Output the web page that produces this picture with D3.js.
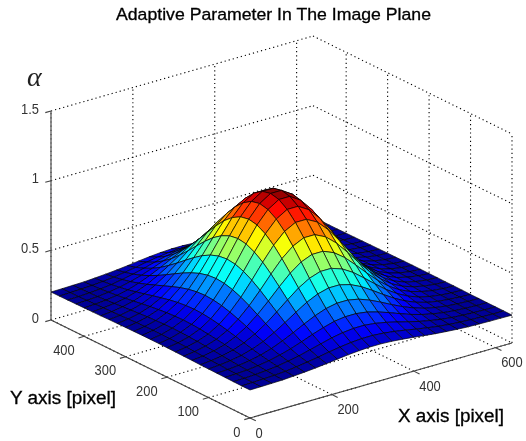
<!DOCTYPE html>
<html>
<head>
<meta charset="utf-8">
<script src="https://cdn.jsdelivr.net/npm/d3@7"></script>
<style>
  html, body { margin:0; padding:0; background:#fff; }
  svg { display:block; filter:blur(0.3px); }
  text { font-family:"Liberation Sans", Arial, sans-serif; }
</style>
</head>
<body>
<svg id="chart" width="526" height="441"></svg>
<script>
const titleText = "Adaptive Parameter In The Image Plane";
const xLabel = "X axis [pixel]";
const yLabel = "Y axis [pixel]";
const zLabel = "\u03b1";

const xTicks = [0, 200, 400, 600];
const yTicks = [0, 100, 200, 300, 400];
const zTicks = [0, 0.5, 1, 1.5];
const zTickLabels = ["0", "0.5", "1", "1.5"];

// mesh nodes
const xNodes = [0,26.7,53.3,80,106.7,133.3,160,186.7,213.3,240,266.7,293.3,320,346.7,373.3,400,426.7,453.3,480,506.7,533.3,560,586.7,613.3,640];
const yNodes = [0,20,40,60,80,100,120,140,160,180,200,220,240,260,280,300,320,340,360,380,400,420,440,460,480];

// alpha, one row per y node
const alpha = [
  [.201,.202,.204,.206,.211,.217,.224,.233,.243,.252,.259,.263,.263,.259,.252,.243,.233,.224,.217,.211,.206,.204,.202,.201,.200],
  [.201,.203,.206,.210,.216,.225,.237,.250,.265,.278,.288,.294,.294,.288,.278,.265,.250,.237,.225,.216,.210,.206,.203,.201,.201],
  [.202,.204,.208,.214,.223,.237,.253,.273,.294,.314,.329,.338,.338,.329,.314,.294,.273,.253,.237,.223,.214,.208,.204,.202,.201],
  [.203,.206,.211,.220,.233,.251,.274,.302,.332,.359,.381,.392,.392,.381,.359,.332,.302,.274,.251,.233,.220,.211,.206,.203,.201],
  [.204,.208,.215,.227,.244,.269,.301,.338,.378,.415,.444,.460,.460,.444,.415,.378,.338,.301,.269,.244,.227,.215,.208,.204,.202],
  [.205,.211,.220,.235,.258,.290,.332,.381,.433,.482,.519,.540,.540,.519,.482,.433,.381,.332,.290,.258,.235,.220,.211,.205,.202],
  [.206,.213,.225,.244,.273,.314,.366,.428,.493,.555,.602,.629,.629,.602,.555,.493,.428,.366,.314,.273,.244,.225,.213,.206,.203],
  [.208,.216,.231,.254,.289,.338,.402,.477,.557,.632,.690,.722,.722,.690,.632,.557,.477,.402,.338,.289,.254,.231,.216,.208,.204],
  [.209,.219,.236,.263,.304,.362,.437,.525,.619,.707,.774,.812,.812,.774,.707,.619,.525,.437,.362,.304,.263,.236,.219,.209,.204],
  [.210,.222,.241,.271,.318,.384,.468,.568,.675,.774,.851,.893,.893,.851,.774,.675,.568,.468,.384,.318,.271,.241,.222,.210,.205],
  [.211,.224,.244,.278,.329,.401,.493,.602,.718,.826,.910,.957,.957,.910,.826,.718,.602,.493,.401,.329,.278,.244,.224,.211,.205],
  [.212,.225,.247,.282,.336,.412,.509,.624,.747,.861,.949,.999,.999,.949,.861,.747,.624,.509,.412,.336,.282,.247,.225,.212,.206],
  [.212,.225,.248,.284,.339,.416,.515,.632,.757,.873,.963,1.013,1.013,.963,.873,.757,.632,.515,.416,.339,.284,.248,.225,.212,.206],
  [.212,.225,.247,.282,.336,.412,.509,.624,.747,.861,.949,.999,.999,.949,.861,.747,.624,.509,.412,.336,.282,.247,.225,.212,.206],
  [.211,.224,.244,.278,.329,.401,.493,.602,.718,.826,.910,.957,.957,.910,.826,.718,.602,.493,.401,.329,.278,.244,.224,.211,.205],
  [.210,.222,.241,.271,.318,.384,.468,.568,.675,.774,.851,.893,.893,.851,.774,.675,.568,.468,.384,.318,.271,.241,.222,.210,.205],
  [.209,.219,.236,.263,.304,.362,.437,.525,.619,.707,.774,.812,.812,.774,.707,.619,.525,.437,.362,.304,.263,.236,.219,.209,.204],
  [.208,.216,.231,.254,.289,.338,.402,.477,.557,.632,.690,.722,.722,.690,.632,.557,.477,.402,.338,.289,.254,.231,.216,.208,.204],
  [.206,.213,.225,.244,.273,.314,.366,.428,.493,.555,.602,.629,.629,.602,.555,.493,.428,.366,.314,.273,.244,.225,.213,.206,.203],
  [.205,.211,.220,.235,.258,.290,.332,.381,.433,.482,.519,.540,.540,.519,.482,.433,.381,.332,.290,.258,.235,.220,.211,.205,.202],
  [.204,.208,.215,.227,.244,.269,.301,.338,.378,.415,.444,.460,.460,.444,.415,.378,.338,.301,.269,.244,.227,.215,.208,.204,.202],
  [.203,.206,.211,.220,.233,.251,.274,.302,.332,.359,.381,.392,.392,.381,.359,.332,.302,.274,.251,.233,.220,.211,.206,.203,.201],
  [.202,.204,.208,.214,.223,.237,.253,.273,.294,.314,.329,.338,.338,.329,.314,.294,.273,.253,.237,.223,.214,.208,.204,.202,.201],
  [.201,.203,.206,.210,.216,.225,.237,.250,.265,.278,.288,.294,.294,.288,.278,.265,.250,.237,.225,.216,.210,.206,.203,.201,.201],
  [.201,.202,.204,.206,.211,.217,.224,.233,.243,.252,.259,.263,.263,.259,.252,.243,.233,.224,.217,.211,.206,.204,.202,.201,.200]
];

const jetStops = ["#00008f", "#0000ff", "#00ffff", "#ffff00", "#ff0000", "#800000"];
const jetPos = [0, 0.125, 0.375, 0.625, 0.875, 1];

const svg = d3.select("#chart");

// oblique box: each data axis moves the point along a fixed screen direction
const originX = 250, originY = 418;
const xToSx = d3.scaleLinear().domain([0, 640]).range([0, 262]);
const xToSy = d3.scaleLinear().domain([0, 640]).range([0, -75]);
const yToSx = d3.scaleLinear().domain([0, 480]).range([0, -199]);
const yToSy = d3.scaleLinear().domain([0, 480]).range([0, -98]);
const zToSy = d3.scaleLinear().domain([0, 1.5]).range([0, -209]);

const project = (x, y, z) => [
  originX + xToSx(x) + yToSx(y),
  originY + xToSy(x) + yToSy(y) + zToSy(z)
];

const line3d = (a, b) => {
  const p = project(...a), q = project(...b);
  return `M${p[0]},${p[1]}L${q[0]},${q[1]}`;
};

const zExtent = d3.extent(alpha.flat());
const jet = d3.scaleLinear().domain(jetPos).range(jetStops).interpolate(d3.interpolateRgb);
const colour = d3.scaleQuantize()
  .domain(zExtent)
  .range(d3.range(64).map(k => jet((k + 0.5) / 64)));

// grid lines on walls and floor
const grid = svg.append("g")
  .attr("fill", "none")
  .attr("stroke", "#000")
  .attr("stroke-width", 1.1)
  .attr("stroke-dasharray", "1.2 3");

zTicks.forEach(z => {
  grid.append("path").attr("d", line3d([0, 480, z], [640, 480, z]));
  grid.append("path").attr("d", line3d([640, 480, z], [640, 0, z]));
});
xTicks.forEach(x => {
  grid.append("path").attr("d", line3d([x, 480, 0], [x, 480, 1.5]));
  grid.append("path").attr("d", line3d([x, 0, 0], [x, 480, 0]));
});
yTicks.forEach(y => {
  grid.append("path").attr("d", line3d([640, y, 0], [640, y, 1.5]));
  grid.append("path").attr("d", line3d([0, y, 0], [640, y, 0]));
});

// axis lines and ticks
const axes = svg.append("g").attr("fill", "none").attr("stroke", "#444").attr("stroke-width", 1.1);
axes.append("path").attr("d", line3d([0, 480, 0], [0, 480, 1.5])).attr("stroke", "#666").attr("stroke-width", 1.4);
axes.append("path").attr("d", line3d([0, 0, 0], [640, 0, 0]));
axes.append("path").attr("d", line3d([0, 0, 0], [0, 480, 0]));
xTicks.forEach(x => axes.append("path").attr("d", line3d([x, 0, 0], [x, -14, 0])));
yTicks.forEach(y => axes.append("path").attr("d", line3d([0, y, 0], [-14, y, 0])));
zTicks.forEach(z => axes.append("path").attr("d", line3d([0, 480, z], [-14, 480, z])));

// surface, back corner first so nearer cells cover it
const cells = [];
for (let j = yNodes.length - 2; j >= 0; j--) {
  for (let i = xNodes.length - 2; i >= 0; i--) {
    cells.push({ i, j });
  }
}
svg.append("g")
  .selectAll("path")
  .data(cells)
  .join("path")
  .attr("d", ({ i, j }) => {
    const pts = [[i, j], [i + 1, j], [i + 1, j + 1], [i, j + 1]]
      .map(([a, b]) => project(xNodes[a], yNodes[b], alpha[b][a]));
    return "M" + pts.join("L") + "Z";
  })
  .attr("fill", d => colour(alpha[d.j][d.i]))
  .attr("stroke", "#000")
  .attr("stroke-opacity", 0.85)
  .attr("stroke-width", 0.8)
  .attr("stroke-linejoin", "round");

// tick labels, placed relative to their tick
const labels = svg.append("g").attr("fill", "#333").attr("font-size", 15)
  .attr("dominant-baseline", "central");
const squeeze = function () {
  d3.select(this)
    .attr("textLength", this.getComputedTextLength() * 0.86)
    .attr("lengthAdjust", "spacingAndGlyphs");
};
xTicks.forEach(x => {
  const p = project(x, 0, 0);
  labels.append("text").attr("x", p[0] + 5.5).attr("y", p[1] + 14).text(x).each(squeeze);
});
yTicks.forEach(y => {
  const p = project(0, y, 0);
  labels.append("text").attr("x", p[0] - 9.5).attr("y", p[1] + 13)
    .attr("text-anchor", "end").text(y).each(squeeze);
});
zTicks.forEach((z, k) => {
  const p = project(0, 480, z);
  labels.append("text").attr("x", p[0] - 12).attr("y", p[1] - 3)
    .attr("text-anchor", "end").text(zTickLabels[k]).each(squeeze);
});

svg.append("text").attr("x", 273.5).attr("y", 20)
  .attr("text-anchor", "middle").attr("font-size", 17).attr("fill", "#000")
  .attr("stroke", "#000").attr("stroke-width", 0.3)
  .attr("textLength", 315).attr("lengthAdjust", "spacingAndGlyphs")
  .text(titleText);
svg.append("text").attr("x", 10).attr("y", 404)
  .attr("font-size", 18).attr("fill", "#000")
  .attr("stroke", "#000").attr("stroke-width", 0.3)
  .attr("textLength", 106).attr("lengthAdjust", "spacingAndGlyphs")
  .text(yLabel);
svg.append("text").attr("x", 398).attr("y", 421.5)
  .attr("font-size", 18).attr("fill", "#000")
  .attr("stroke", "#000").attr("stroke-width", 0.3)
  .attr("textLength", 106).attr("lengthAdjust", "spacingAndGlyphs")
  .text(xLabel);
svg.append("text").attr("x", 27).attr("y", 86)
  .attr("font-size", 28).attr("font-style", "italic").attr("fill", "#222")
  .style("font-family", '"Liberation Serif", serif')
  .text(zLabel);
</script>
</body>
</html>
